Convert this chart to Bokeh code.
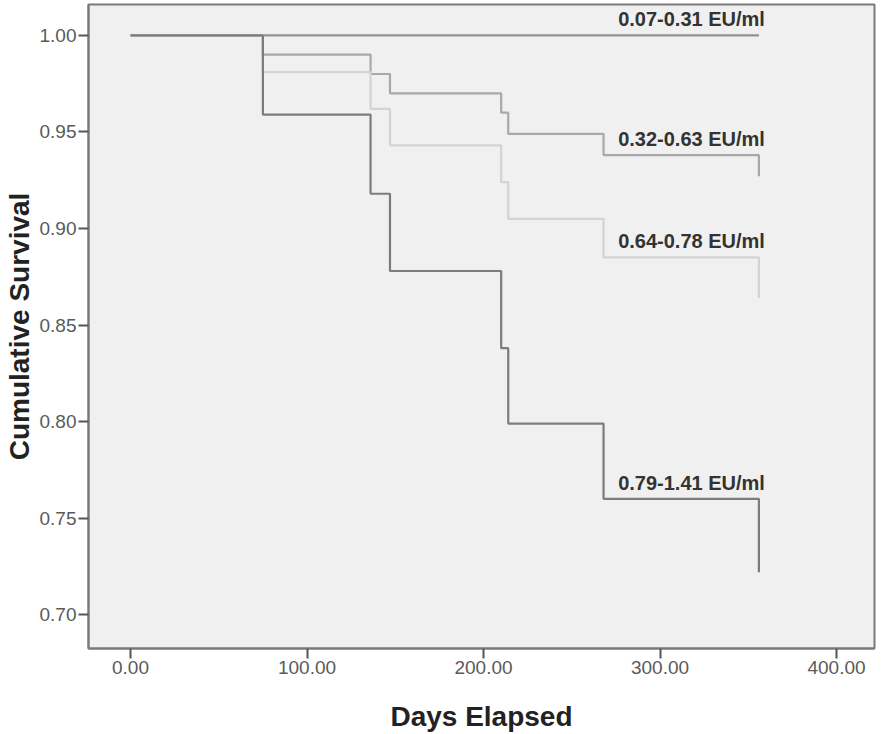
import numpy as np
from bokeh.plotting import figure
from bokeh.models import FixedTicker, NumeralTickFormatter, Range1d, ColumnDataSource
from bokeh.core.properties import value
from bokeh.embed import file_html
from bokeh.resources import INLINE

# ---- data ----
groups = ["0.07-0.31 EU/ml", "0.32-0.63 EU/ml", "0.64-0.78 EU/ml", "0.79-1.41 EU/ml"]
times_top = [0, 356]
surv_top = [1.0, 1.0]
times = [0, 75, 136, 147, 210, 214, 268, 356]
surv_032 = [1.0, 0.990, 0.980, 0.970, 0.960, 0.949, 0.938, 0.927]
surv_064 = [1.0, 0.981, 0.962, 0.943, 0.924, 0.905, 0.885, 0.864]
surv_079 = [1.0, 0.959, 0.918, 0.878, 0.838, 0.799, 0.760, 0.722]
x_ticks = [0, 100, 200, 300, 400]
y_ticks = [0.70, 0.75, 0.80, 0.85, 0.90, 0.95, 1.00]

colors = ["#929292", "#a8a8a8", "#d3d3d3", "#7c7c7c"]

p = figure(width=876, height=734, output_backend="svg", toolbar_location=None,
           x_range=Range1d(-23.8, 421.5), y_range=Range1d(0.6825, 1.016),
           min_border_top=4, min_border_right=2, min_border_left=0, min_border_bottom=0)

p.background_fill_color = "#f0f0f0"
p.border_fill_color = "white"
p.outline_line_color = "#7a7a7a"
p.outline_line_width = 2
p.xgrid.visible = False
p.ygrid.visible = False

for ax in (p.xaxis[0], p.yaxis[0]):
    ax.axis_line_color = "#7a7a7a"
    ax.axis_line_width = 2
    ax.major_tick_line_color = "#555555"
    ax.major_tick_line_width = 2
    ax.major_tick_in = 0
    ax.major_tick_out = 10
    ax.minor_tick_line_color = None
    ax.major_label_text_font = "Liberation Sans"
    ax.major_label_text_font_size = "19px"
    ax.major_label_text_color = "#5a5a5a"
    ax.major_label_standoff = 2
    ax.axis_label_text_font = "Liberation Sans"
    ax.axis_label_text_font_style = "bold"
    ax.axis_label_text_font_size = "28px"
    ax.axis_label_text_color = "#222222"

p.xaxis.ticker = FixedTicker(ticks=x_ticks)
p.yaxis.ticker = FixedTicker(ticks=y_ticks)
p.xaxis.formatter = NumeralTickFormatter(format="0.00")
p.yaxis.formatter = NumeralTickFormatter(format="0.00")
p.xaxis.axis_label = "Days Elapsed"
p.yaxis.axis_label = "Cumulative Survival"
p.xaxis.axis_label_standoff = 24
p.yaxis.axis_label_standoff = 2


def step_path(t, s):
    t = np.asarray(t, dtype=float)
    s = np.asarray(s, dtype=float)
    return np.repeat(t, 2)[1:], np.repeat(s, 2)[:-1]


series = [(times_top, surv_top), (times, surv_032), (times, surv_064), (times, surv_079)]
lab_x, lab_y = [], []
for (t, s), c in zip(series, colors):
    xs, ys = step_path(t, s)
    p.line(xs, ys, line_color=c, line_width=2.2)
    lab_x.append(t[-1])
    lab_y.append(s[-2])

src = ColumnDataSource(dict(x=lab_x, y=lab_y, text=groups))
p.text(x="x", y="y", text="text", source=src, text_align="right", text_baseline="bottom",
       x_offset=6, y_offset=-5, text_font_size="20px", text_font_style="bold",
       text_color="#333333", text_font=value("Liberation Sans"))

open("out.html", "w").write(file_html(p, INLINE))
